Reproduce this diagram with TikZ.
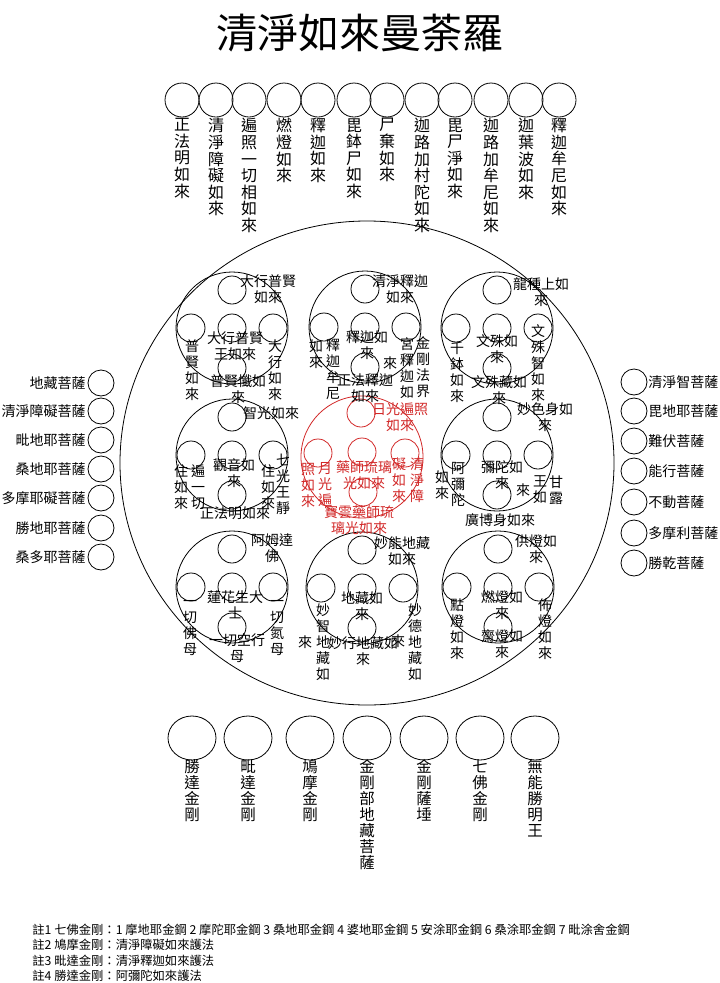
\documentclass[tikz,border=0pt]{standalone}
\usepackage{fontspec}
\setmainfont{Noto Sans CJK TC}
\usetikzlibrary{shapes.geometric}
\definecolor{rd}{RGB}{210,40,40}
\tikzset{
 gl/.style={font=\fontsize{14}{16}\selectfont, align=center, inner sep=0pt},
 tlab/.style={font=\fontsize{16}{16.6}\selectfont, align=center, inner sep=0pt, anchor=north},
 slab/.style={font=\fontsize{14}{16}\selectfont, inner sep=0pt},
 nlab/.style={font=\fontsize{12.3}{15}\selectfont, inner sep=0pt, anchor=west},
 ring/.style={circle, draw, minimum size=112pt, inner sep=0pt},
 dotc/.style={circle, draw, minimum size=28pt, inner sep=0pt},
 sidec/.style={circle, draw, minimum size=26pt, inner sep=0pt},
 topc/.style={circle, draw, minimum size=34pt, inner sep=0pt},
 botc/.style={ellipse, draw, minimum width=48pt, minimum height=44pt, inner sep=0pt},
}
\newcommand\grp[4]{%
 \node[ring,draw=#4] (#1) at (#2,#3) {};
 \node[dotc,draw=#4] (#1t) at (#2,#3-38) {};
 \node[dotc,draw=#4] (#1l) at (#2-41,#3) {};
 \node[dotc,draw=#4] (#1c) at (#2,#3) {};
 \node[dotc,draw=#4] (#1r) at (#2+41,#3) {};
 \node[dotc,draw=#4] (#1b) at (#2,#3+40) {};}
\newcommand\lab[4]{\node[gl] (#1) at (#2,#3) {#4};}
\begin{document}
\begin{tikzpicture}[x=1pt,y=-1pt,line width=0.8pt]
\useasboundingbox (0,0) rectangle (720,983);
\fill[white] (0,0) rectangle (720,983);
% title
\node[font=\fontsize{41}{41}\selectfont, inner sep=0pt] (title) at (360,33) {清淨如來曼荼羅};
% top row
\foreach \n/\x/\t in {1/182/{正\\法\\明\\如\\來},2/216/{清\\淨\\障\\礙\\如\\來},3/249/{遍\\照\\一\\切\\相\\如\\來},
 4/284/{燃\\燈\\如\\來},5/318/{釋\\迦\\如\\來},6/354/{毘\\鉢\\尸\\如\\來},7/387/{尸\\棄\\如\\來},
 8/422/{迦\\路\\加\\村\\陀\\如\\來},9/455/{毘\\尸\\淨\\如\\來},10/491/{迦\\路\\加\\牟\\尼\\如\\來},
 11/526/{迦\\葉\\波\\如\\來},12/559/{釋\\迦\\牟\\尼\\如\\來}}{
 \node[topc] (tc\n) at (\x,100) {};
 \node[tlab] (tt\n) at (\x,118) {\t};
}
% big circle
\node[ellipse, draw, minimum width=494pt, minimum height=484pt, inner sep=0pt] (big) at (367,463) {};
% left side
\foreach \n/\y/\t in {1/383/地藏菩薩,2/411/清淨障礙菩薩,3/440/毗地耶菩薩,4/469/桑地耶菩薩,5/498/多摩耶礙菩薩,6/528/勝地耶菩薩,7/557/桑多耶菩薩}{
 \node[sidec] (lc\n) at (101,\y) {};
 \node[slab,anchor=east] (ll\n) at (86,\y) {\t};
}
% right side
\foreach \n/\y/\t in {1/382/清淨智菩薩,2/411/毘地耶菩薩,3/441/難伏菩薩,4/471/能行菩薩,5/502/不動菩薩,6/533/多摩利菩薩,7/563/勝乾菩薩}{
 \node[sidec] (rc\n) at (634,\y) {};
 \node[slab,anchor=west] (rl\n) at (648,\y) {\t};
}
% groups
\grp{ga}{232}{328}{black}
\grp{gb}{365}{327}{black}
\grp{gc}{497}{328}{black}
\grp{gd}{232}{455}{black}
\grp{gf}{497}{455}{black}
\grp{gg}{232}{587}{black}
\grp{gh}{362}{588}{black}
\grp{gi}{498}{587}{black}
% red center group
\node[circle,draw=rd,minimum size=122pt,inner sep=0pt] (ge) at (362,457) {};
\node[dotc,draw=rd] (get) at (361,413) {};
\node[dotc,draw=rd] (gel) at (318,453) {};
\node[dotc,draw=rd] (gec) at (362,452) {};
\node[dotc,draw=rd] (ger) at (405,453) {};
\node[dotc,draw=rd] (geb) at (363,492) {};
% labels group a
\lab{a1}{268}{289}{大行普賢\\如來}
\lab{a2}{235}{346}{大行普賢\\王如來}
\lab{a3}{192}{370}{普\\賢\\如\\來}
\lab{a4}{275}{370}{大\\行\\如\\來}
\lab{a5}{238}{389}{普賢懺如\\來}
% group b
\lab{b1}{400}{289}{清淨釋迦\\如來}
\lab{b2}{367}{345}{釋迦如\\來}
\lab{b3}{333}{369}{釋\\迦\\牟\\尼}
\lab{b4}{316}{354}{如\\來}
\lab{b5}{423}{367}{金\\剛\\法\\界}
\lab{b6}{407}{368}{宮\\釋\\迦\\如}
\lab{b7}{390}{363}{來}
\lab{b8}{365}{388}{正法釋迦\\如來}
% group c
\lab{c1}{541}{292}{龍種上如\\來}
\lab{c2}{497}{349}{文殊如\\來}
\lab{c3}{457}{372}{千\\鉢\\如\\來}
\lab{c4}{538}{363}{文\\殊\\智\\如\\來}
\lab{c5}{499}{390}{文殊藏如\\來}
% group d
\lab{d1}{271}{413}{智光如來}
\lab{d2}{234}{473}{觀音如\\來}
\lab{d3}{198}{487}{遍\\一\\切}
\lab{d4}{181}{487}{住\\如\\來}
\lab{d5}{283}{484}{七\\光\\王\\靜}
\lab{d6}{268}{487}{住\\如\\來}
\lab{d7}{235}{513}{正法明如來}
% group e (red)
\begin{scope}[every node/.append style={text=rd}]
\lab{e1}{400}{417}{日光遍照\\如來}
\lab{e2}{364}{475}{藥師琉璃\\光如來}
\lab{e3}{325}{485}{月\\光\\遍}
\lab{e4}{308}{485}{照\\如\\來}
\lab{e5}{417}{480}{清\\淨\\障}
\lab{e6}{399}{480}{礙\\如\\來}
\lab{e7}{359}{520}{寶雲藥師琉\\璃光如來}
\end{scope}
% group f
\lab{f1}{545}{417}{妙色身如\\來}
\lab{f2}{502}{475}{彌陀如\\來}
\lab{f3}{458}{484}{阿\\彌\\陀}
\lab{f4}{442}{485}{如\\來}
\lab{f5}{556}{490}{甘\\露}
\lab{f6}{540}{490}{王\\如}
\lab{f7}{523}{490}{來}
\lab{f8}{500}{520}{廣博身如來}
% group g
\lab{g1}{272}{548}{阿姆達\\佛}
\lab{g2}{235}{605}{蓮花生大\\士}
\lab{g3}{190}{628}{一\\切\\佛\\母}
\lab{g4}{277}{628}{一\\切\\氮\\母}
\lab{g5}{237}{648}{一切空行\\母}
% group h
\lab{h1}{402}{551}{妙能地藏\\如來}
\lab{h2}{362}{606}{地藏如\\來}
\lab{h3}{323}{642}{妙\\智\\地\\藏\\如}
\lab{h4}{305}{642}{來}
\lab{h5}{415}{642}{妙\\德\\地\\藏\\如}
\lab{h6}{398}{641}{來}
\lab{h7}{363}{651}{妙行地藏如\\來}
% group i
\lab{i1}{536}{549}{供燈如\\來}
\lab{i2}{502}{605}{燃燈如\\來}
\lab{i3}{457}{629}{點\\燈\\如\\來}
\lab{i4}{545}{629}{佈\\燈\\如\\來}
\lab{i5}{502}{644}{齋燈如\\來}
% bottom row
\foreach \n/\x/\t in {1/192/{勝\\達\\金\\剛},2/248/{毗\\達\\金\\剛},3/310/{鳩\\摩\\金\\剛},4/367/{金\\剛\\部\\地\\藏\\菩\\薩},
 5/424/{金\\剛\\薩\\埵},6/480/{七\\佛\\金\\剛},7/535/{無\\能\\勝\\明\\王}}{
 \node[botc] (bc\n) at (\x,738) {};
 \node[tlab,font=\fontsize{15.5}{16}\selectfont] (bt\n) at (\x,759) {\t};
}
% notes
\node[nlab] (n1) at (32,930) {註1 七佛金剛：1 摩地耶金鋼 2 摩陀耶金鋼 3 桑地耶金鋼 4 婆地耶金鋼 5 安涂耶金鋼 6 桑涂耶金鋼 7 毗涂舍金鋼};
\node[nlab] (n2) at (32,945) {註2 鳩摩金剛：清淨障礙如來護法};
\node[nlab] (n3) at (32,961) {註3 毗達金剛：清淨釋迦如來護法};
\node[nlab] (n4) at (32,976) {註4 勝達金剛：阿彌陀如來護法};
\end{tikzpicture}
\end{document}
